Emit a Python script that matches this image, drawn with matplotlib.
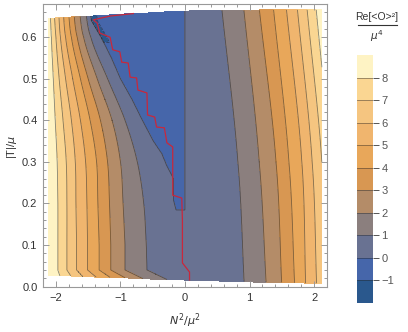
import numpy as np
import matplotlib
matplotlib.use('Agg')
import matplotlib.pyplot as plt
from matplotlib.lines import Line2D

plt.rcParams['font.family'] = ['Liberation Sans', 'DejaVu Sans']
plt.rcParams['mathtext.fontset'] = 'dejavusans'

levels = [-2, -1, 0, 1, 2, 3, 4, 5, 6, 7, 8, 9]
band_colors = ['#2a588d', '#4666aa', '#697292', '#8b7f7e', '#b48c68', '#d89752',
               '#e8a75a', '#f0b56e', '#f5c580', '#fad692', '#fef3c4']
cbar_ticks = [-1, 0, 1, 2, 3, 4, 5, 6, 7, 8]

# left half (N^2 < 0): x position of contour lines 8,7,...,1 at several |T|/mu rows
left_rows_y = [0.0, 0.04, 0.1, 0.2, 0.3, 0.4, 0.5, 0.6, 0.67]
left_levels = [8, 7, 6, 5, 4, 3, 2, 1]
left_x = [
    [-1.88, -1.66, -1.44, -1.20, -0.95, -0.68, -0.40, -0.05],
    [-1.97, -1.83, -1.68, -1.51, -1.33, -1.15, -0.93, -0.59],
    [-1.97, -1.83, -1.68, -1.51, -1.33, -1.15, -0.93, -0.60],
    [-1.97, -1.83, -1.69, -1.52, -1.35, -1.17, -0.96, -0.64],
    [-1.98, -1.84, -1.70, -1.54, -1.37, -1.20, -1.00, -0.74],
    [-2.01, -1.89, -1.76, -1.62, -1.47, -1.31, -1.13, -0.93],
    [-2.04, -1.95, -1.85, -1.74, -1.62, -1.50, -1.36, -1.20],
    [-2.07, -2.00, -1.93, -1.85, -1.76, -1.67, -1.57, -1.46],
    [-2.09, -2.03, -1.96, -1.89, -1.81, -1.73, -1.64, -1.55],
]

# right half (N^2 > 0): x position of contour lines 1..8
right_rows_y = [0.0, 0.3, 0.67]
right_levels = [1, 2, 3, 4, 5, 6, 7, 8]
right_x = [
    [0.92, 1.26, 1.50, 1.70, 1.87, 2.04, 2.20, 2.35],
    [0.82, 1.15, 1.41, 1.61, 1.81, 1.97, 2.12, 2.25],
    [0.57, 0.91, 1.15, 1.37, 1.57, 1.74, 1.89, 2.03],
]
value_at_zero = 0.2

# region where Re<O>^2 < 0 (left edge of the blue patch, x=0 is its right edge)
neg_y = [0.185, 0.21, 0.26, 0.29, 0.32, 0.35, 0.40, 0.45, 0.50, 0.55, 0.60, 0.64, 0.67]
neg_x = [-0.14, -0.18, -0.18, -0.28, -0.36, -0.49, -0.66, -0.82, -1.00, -1.14, -1.30, -1.45, -1.47]
neg_value = -0.5
# small strip below -1 near the top
deep_y = [0.588, 0.67]
deep_width = 0.09
deep_value = -1.5

# edges of the computed domain
dom_x = [-2.12, 2.12]
bot_x = [-2.12, 0.0, 2.12]
bot_y = [0.027, 0.015, 0.007]
top_x = [-2.12, -0.7, 0.2, 2.12]
top_y = [0.646, 0.658, 0.665, 0.667]

# red curve
red_x = [-0.80, -1.16, -1.42, -1.36, -1.32, -1.16, -1.12, -1.01, -0.98, -0.88, -0.85, -0.75,
         -0.73, -0.59, -0.58, -0.47, -0.44, -0.32, -0.28, -0.19, -0.19, -0.19, -0.05, -0.04,
         -0.04, 0.07, 0.07]
red_y = [0.657, 0.651, 0.642, 0.634, 0.610, 0.600, 0.570, 0.565, 0.540, 0.538, 0.504, 0.502,
         0.473, 0.466, 0.413, 0.408, 0.384, 0.382, 0.346, 0.336, 0.288, 0.220, 0.213, 0.160,
         0.057, 0.035, 0.016]


def smooth_pos(yv, ty, tx, first_smooth):
    '''contour x at height yv: straight below row first_smooth, Catmull-Rom above'''
    ty = np.asarray(ty)
    tx = np.asarray(tx)
    if yv <= ty[first_smooth]:
        return np.interp(yv, ty, tx)
    i = min(np.searchsorted(ty, yv) - 1, len(ty) - 2)
    p1, p2 = tx[i], tx[i + 1]
    p0 = tx[i - 1] if i - 1 >= first_smooth else 2 * p1 - p2
    p3 = tx[i + 2] if i + 2 < len(tx) else 2 * p2 - p1
    t = (yv - ty[i]) / (ty[i + 1] - ty[i])
    return 0.5 * (2 * p1 + (-p0 + p2) * t + (2 * p0 - 5 * p1 + 4 * p2 - p3) * t ** 2
                  + (-p0 + 3 * p1 - 3 * p2 + p3) * t ** 3)


# build the field
xs = np.linspace(-2.2, 2.2, 881)
ys = np.linspace(0.0, 0.68, 681)
X, Y = np.meshgrid(xs, ys)
Z = np.full(X.shape, np.nan)
lx = np.array(left_x)
rx = np.array(right_x)
for i, yv in enumerate(ys):
    yc = min(yv, left_rows_y[-1])
    lk = [smooth_pos(yc, left_rows_y, lx[:, j], 2) for j in range(len(left_levels))]
    rk = [smooth_pos(yc, right_rows_y, rx[:, j], 0) for j in range(len(right_levels))]
    zl = np.interp(xs, [-2.25] + lk + [0.0], [8.9] + left_levels + [value_at_zero])
    zr = np.interp(xs, [0.0] + rk + [2.6], [value_at_zero] + right_levels + [8.9])
    row = np.where(xs < 0, zl, zr)
    if yv >= neg_y[0]:
        edge = np.interp(yv, neg_y, neg_x)
        row = np.where((xs > edge) & (xs < 0), neg_value, row)
        if yv >= deep_y[0]:
            row = np.where((xs > edge) & (xs < edge + deep_width), deep_value, row)
    Z[i] = row

outside = ((X < dom_x[0]) | (X > dom_x[1]) |
           (Y < np.interp(X, bot_x, bot_y)) | (Y > np.interp(X, top_x, top_y)))
Z[outside] = np.nan

fig = plt.figure(figsize=(4.08, 3.32), dpi=100)
ax = fig.add_axes([43 / 408, 45 / 332, 284 / 408, 283 / 332])
cf = ax.contourf(X, Y, Z, levels=levels, colors=band_colors)
ax.contour(X, Y, Z, levels=levels[1:-1], colors='#222222', linewidths=0.6, alpha=0.55)
ax.plot(red_x, red_y, color='#c8283c', lw=0.9)

ax.set_xlim(-2.19, 2.17)
ax.set_ylim(-0.001, 0.68)
ax.set_xticks([-2, -1, 0, 1, 2])
ax.set_xticks(np.arange(-2.2, 2.21, 0.2), minor=True)
ax.set_yticks([0.0, 0.1, 0.2, 0.3, 0.4, 0.5, 0.6])
ax.set_yticks(np.arange(0.0, 0.681, 0.02), minor=True)
ax.set_xticklabels(['\u22122', '\u22121', '0', '1', '2'])
ax.set_yticklabels(['0.0', '0.1', '0.2', '0.3', '0.4', '0.5', '0.6'])
ax.tick_params(which='both', direction='in', top=True, right=True, color='#999999',
               labelsize=8, labelcolor='#333333', width=0.7)
ax.tick_params(which='major', length=4, pad=4)
ax.tick_params(which='minor', length=2.2)
for s in ax.spines.values():
    s.set_color('#999999')
    s.set_linewidth(0.8)

# axis titles placed at their pixel centres
fig.text(185 / 408, 1 - 321 / 332, r'$N^2/\mu^2$', ha='center', va='center', fontsize=8,
         color='#333333')
fig.text(12 / 408, 1 - 147 / 332, r'|T|/$\mu$', ha='center', va='center', fontsize=8,
         color='#333333', rotation=90)

# legend bar
cax = fig.add_axes([357 / 408, 29 / 332, 16 / 408, 248 / 332])
cb = fig.colorbar(cf, cax=cax, ticks=cbar_ticks)
cb.outline.set_visible(False)
cb.ax.set_yticklabels(['\u22121', '0', '1', '2', '3', '4', '5', '6', '7', '8'])
cb.ax.tick_params(length=4, width=0.7, color='#555555', labelsize=8, labelcolor='#555555', pad=2)
for lv in levels[1:-1]:
    cax.axhline(lv, color='#222222', lw=0.6, alpha=0.5)

fig.text(377 / 408, 1 - 17 / 332, 'Re[<O>\u00b2]', ha='center', va='center', fontsize=7.5,
         color='#333333')
fig.add_artist(Line2D([358 / 408, 397 / 408], [1 - 25 / 332, 1 - 25 / 332], color='#333333', lw=0.8))
fig.text(377 / 408, 1 - 36 / 332, r'$\mu^4$', ha='center', va='center', fontsize=7.5,
         color='#333333')

fig.savefig('out.png', dpi=100)
